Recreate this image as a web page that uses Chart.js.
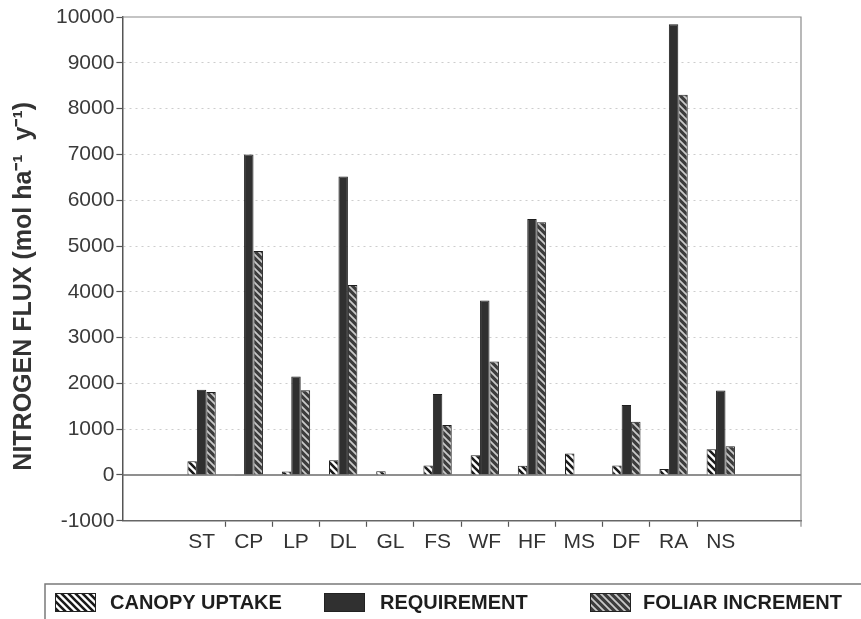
<!DOCTYPE html>
<html>
<head>
<meta charset="utf-8">
<script src="https://cdn.jsdelivr.net/npm/chart.js@4"></script>
<style>
  html, body { margin: 0; padding: 0; background: #fff; }
  #wrap { width: 861px; height: 619px; }
</style>
</head>
<body>
<div id="wrap"><canvas id="fluxChart" width="861" height="619"></canvas></div>
<script>
const CATEGORIES = ["ST", "CP", "LP", "DL", "GL", "FS", "WF", "HF", "MS", "DF", "RA", "NS"];
const SERIES = ["CANOPY UPTAKE", "REQUIREMENT", "FOLIAR INCREMENT"];

// mol ha-1 y-1
const CANOPY_UPTAKE = [300, -15, 75, 320, 80, 210, 430, 200, 470, 210, 130, 560];
const REQUIREMENT = [1860, 7000, 2150, 6520, null, 1770, 3810, 5590, null, 1530, 9840, 1845];
const FOLIAR_INCREMENT = [1810, 4890, 1850, 4150, null, 1090, 2480, 5520, null, 1160, 8300, 630];

const Y_MIN = -1000;
const Y_MAX = 10000;
const Y_STEP = 1000;

const FONT = "'Liberation Sans', Arial, sans-serif";

function $(id) {
  return document.getElementById(id);
}

// diagonal "\" hatch tile
function hatch(bg, fg, lineWidth) {
  const s = 7;
  const c = document.createElement("canvas");
  c.width = s;
  c.height = s;
  const g = c.getContext("2d");
  g.fillStyle = bg;
  g.fillRect(0, 0, s, s);
  g.strokeStyle = fg;
  g.lineWidth = lineWidth;
  g.beginPath();
  for (let k = -1; k <= 1; k++) {
    g.moveTo(k * s - 1, -1);
    g.lineTo(k * s + s + 1, s + 1);
  }
  g.stroke();
  return g.createPattern(c, "repeat");
}

const canopyFill = hatch("#ffffff", "#1a1a1a", 2.6);
const requirementFill = "#303030";
const foliarFill = hatch("#3c3c3c", "#c9c9c9", 1.8);
const FILLS = [canopyFill, requirementFill, foliarFill];

function points(values) {
  return values.map((v, i) => ({ x: i, y: v }));
}

// plot frame and the zero line
const framePlugin = {
  id: "frame",
  beforeDatasetsDraw(chart) {
    const { ctx, chartArea: a, scales } = chart;
    const y0 = scales.y.getPixelForValue(0);
    ctx.save();
    ctx.strokeStyle = "#6a6a6a";
    ctx.lineWidth = 1.5;
    ctx.beginPath();
    ctx.moveTo(a.left, y0);
    ctx.lineTo(a.right, y0);
    ctx.stroke();
    ctx.strokeStyle = "#8a8a8a";
    ctx.lineWidth = 1.2;
    ctx.beginPath();
    ctx.moveTo(a.left, a.top);
    ctx.lineTo(a.right, a.top);
    ctx.lineTo(a.right, a.bottom + 6);
    ctx.stroke();
    ctx.restore();
  },
};

// boxed legend strip along the bottom
const LEGEND_SWATCH_X = [55, 324, 590];
const LEGEND_TEXT_X = [110, 380, 643];

const legendPlugin = {
  id: "legendStrip",
  afterDraw(chart) {
    const { ctx } = chart;
    ctx.save();
    ctx.strokeStyle = "#7a7a7a";
    ctx.lineWidth = 1.5;
    ctx.beginPath();
    ctx.moveTo(861, 584);
    ctx.lineTo(45, 584);
    ctx.lineTo(45, 619);
    ctx.stroke();

    ctx.font = "bold 20px " + FONT;
    ctx.textBaseline = "middle";
    ctx.textAlign = "left";
    SERIES.forEach((name, i) => {
      const x = LEGEND_SWATCH_X[i];
      ctx.fillStyle = FILLS[i];
      ctx.fillRect(x, 593, 41, 19);
      ctx.strokeStyle = "#222";
      ctx.lineWidth = 1;
      ctx.strokeRect(x + 0.5, 593.5, 40, 18);
      ctx.fillStyle = "#1e1e1e";
      ctx.fillText(name, LEGEND_TEXT_X[i], 603);
    });
    ctx.restore();
  },
};

function buildChart() {
  const ctx = $("fluxChart").getContext("2d");
  const values = [CANOPY_UPTAKE, REQUIREMENT, FOLIAR_INCREMENT];

  return new Chart(ctx, {
    type: "bar",
    data: {
      datasets: SERIES.map((name, i) => ({
        label: name,
        data: points(values[i]),
        backgroundColor: FILLS[i],
        borderColor: "#1e1e1e",
        borderWidth: 1,
      })),
    },
    options: {
      responsive: false,
      animation: false,
      events: [],
      categoryPercentage: 0.6,
      barPercentage: 1.0,
      layout: {
        padding: { left: 0, right: 60, top: 17, bottom: 61 },
      },
      plugins: {
        legend: { display: false },
        tooltip: { enabled: false },
      },
      scales: {
        x: {
          type: "linear",
          offset: false,
          min: -1.678,
          max: 12.7,
          afterBuildTicks: (scale) => {
            scale.ticks = CATEGORIES.map((c, i) => ({ value: i }));
          },
          ticks: {
            autoSkip: false,
            maxRotation: 0,
            padding: 3,
            color: "#333",
            font: { family: FONT, size: 21 },
            callback: (value) => CATEGORIES[value],
          },
          grid: {
            offset: true,
            drawOnChartArea: false,
            drawTicks: true,
            tickLength: 6,
            tickWidth: 1.2,
            tickColor: (c) => (c.type !== "tick" || c.index === 0 ? "rgba(0,0,0,0)" : "#555"),
          },
          border: { display: true, color: "#666", width: 1.5 },
        },
        y: {
          min: Y_MIN,
          max: Y_MAX,
          ticks: {
            stepSize: Y_STEP,
            padding: 2,
            color: "#3a3a3a",
            font: { family: FONT, size: 21 },
            callback: (value) => String(value),
          },
          grid: {
            color: (c) => {
              const v = c.tick ? c.tick.value : null;
              return v === 0 || v === Y_MIN || v === Y_MAX ? "rgba(0,0,0,0)" : "#cdcdcd";
            },
            lineWidth: 1,
            tickLength: 6,
            tickWidth: 1.2,
            tickColor: "#555",
            tickBorderDash: [],
          },
          border: { display: true, color: "#555", width: 1.5, dash: [2, 4] },
          title: {
            display: true,
            text: "NITROGEN FLUX (mol ha⁻¹  y⁻¹)     ",
            color: "#333",
            font: { family: FONT, size: 25, weight: "bold" },
            padding: { top: 9, bottom: 15 },
          },
        },
      },
    },
    plugins: [framePlugin, legendPlugin],
  });
}

document.addEventListener("DOMContentLoaded", buildChart);
</script>
</body>
</html>
